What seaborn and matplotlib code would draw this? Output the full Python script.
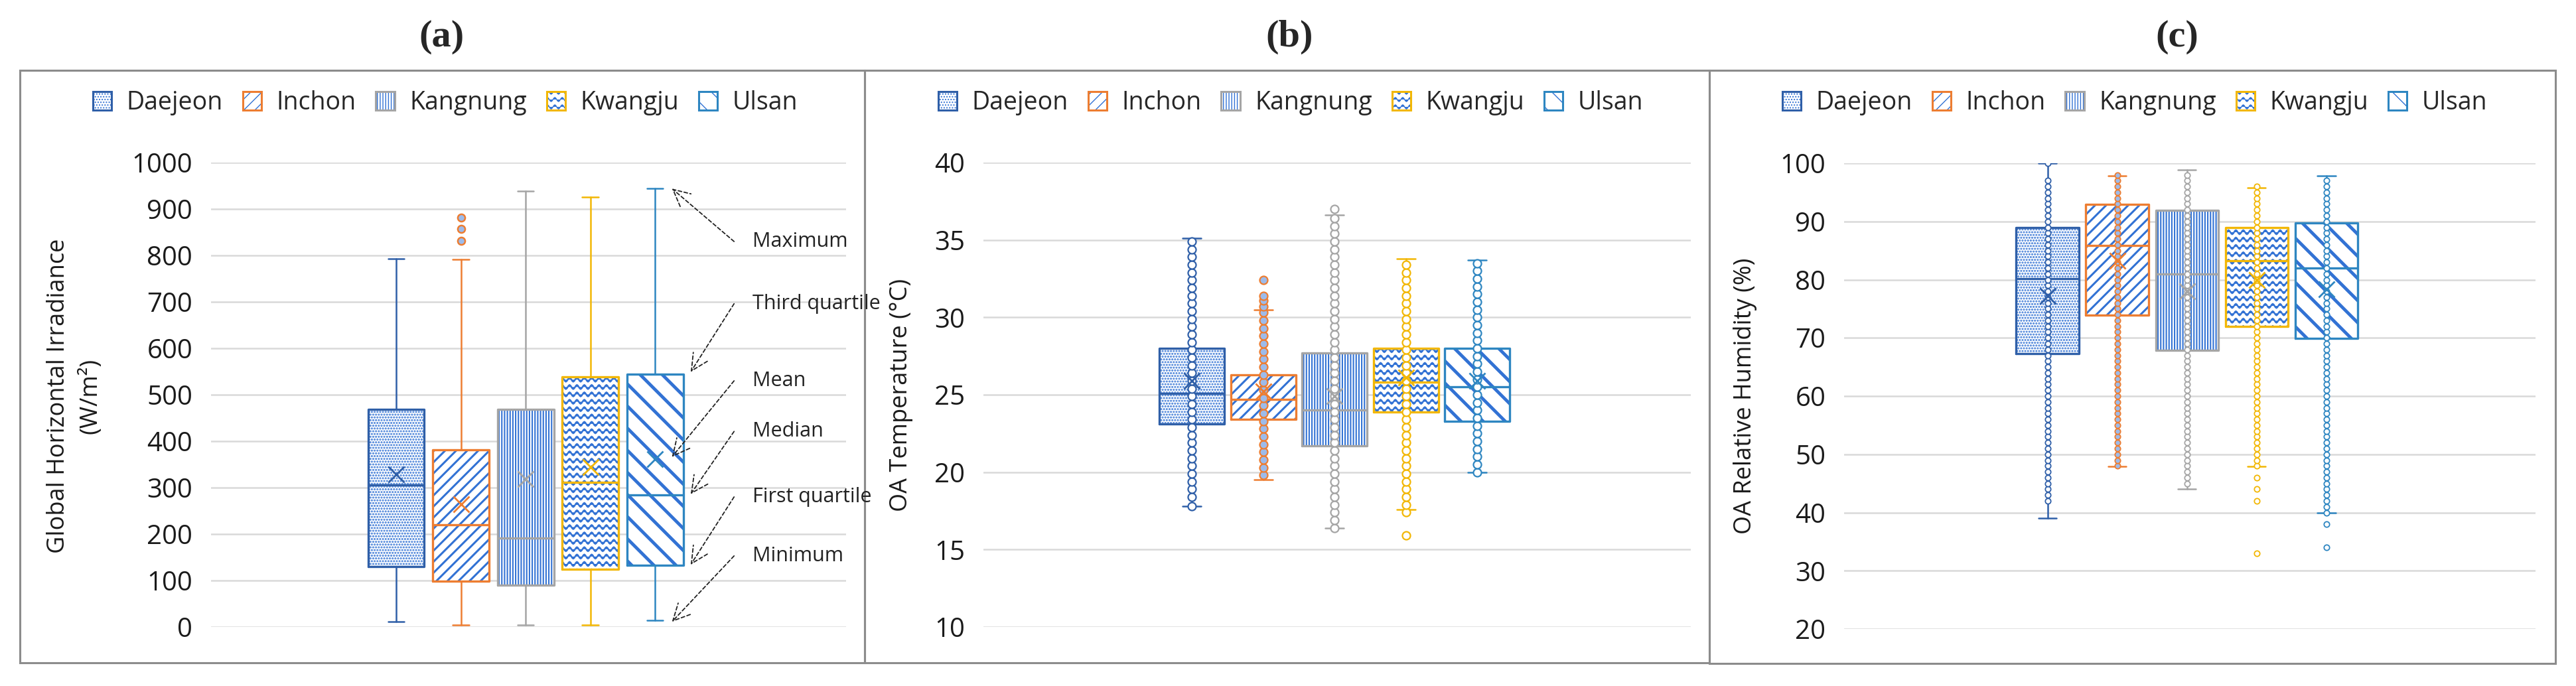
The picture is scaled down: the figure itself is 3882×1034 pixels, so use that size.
import warnings
warnings.filterwarnings('ignore')
import numpy as np
import pandas as pd
import matplotlib
matplotlib.use('Agg')
import matplotlib.pyplot as plt
from matplotlib import hatch as mhatch
from matplotlib.path import Path
from matplotlib.patches import Rectangle, Patch
from matplotlib.legend_handler import HandlerTuple
import seaborn as sns

# ---------------- data ----------------
cities = ['Daejeon', 'Inchon', 'Kangnung', 'Kwangju', 'Ulsan']

# (a) Global horizontal irradiance (W/m2)
ghi_min = [12, 5, 5, 5, 15]
ghi_q1 = [130, 99, 90, 125, 133]
ghi_med = [306, 220, 191, 311, 285]
ghi_q3 = [469, 382, 469, 538, 545]
ghi_max = [793, 791, 938, 925, 944]
ghi_mean = [328, 265, 318, 344, 361]
ghi_out = [[], [831, 857, 882], [], [], []]

# (b) OA temperature (degC)
temp_min = [17.8, 19.5, 16.4, 17.6, 20.0]
temp_q1 = [23.1, 23.4, 21.7, 23.9, 23.3]
temp_med = [25.1, 24.7, 24.0, 25.8, 25.5]
temp_q3 = [28.0, 26.3, 27.7, 28.0, 28.0]
temp_max = [35.1, 30.5, 36.6, 33.8, 33.7]
temp_mean = [25.9, 25.2, 24.9, 26.1, 25.9]
temp_pts_daejeon = [17.8, 18.4, 18.9, 19.4, 19.9, 20.4, 20.9, 21.4, 21.9, 22.4, 22.9,
                    23.4, 23.9, 24.4, 24.9, 25.4, 25.9, 26.4, 26.9, 27.4, 27.9, 28.4,
                    28.9, 29.4, 29.9, 30.4, 30.9, 31.4, 31.9, 32.4, 32.9, 33.4, 33.9,
                    34.4, 34.9]
temp_pts_inchon = [19.8, 20.3, 20.8, 21.3, 21.8, 22.3, 22.8, 23.3, 23.8, 24.3, 24.8,
                   25.3, 25.8, 26.3, 26.8, 27.3, 27.8, 28.3, 28.8, 29.3, 29.8, 30.3,
                   30.7, 31.1, 31.4, 32.4]
temp_pts_kangnung = [16.4, 16.9, 17.4, 17.9, 18.4, 18.9, 19.4, 19.9, 20.4, 20.9, 21.4,
                     21.9, 22.4, 22.9, 23.4, 23.9, 24.4, 24.9, 25.4, 25.9, 26.4, 26.9,
                     27.4, 27.9, 28.4, 28.9, 29.4, 29.9, 30.4, 30.9, 31.4, 31.9, 32.4,
                     32.9, 33.4, 33.9, 34.4, 34.9, 35.4, 35.9, 36.4, 37.0]
temp_pts_kwangju = [15.9, 17.4, 17.9, 18.4, 18.9, 19.4, 19.9, 20.4, 20.9, 21.4, 21.9,
                    22.4, 22.9, 23.4, 23.9, 24.4, 24.9, 25.4, 25.9, 26.4, 26.9, 27.4,
                    27.9, 28.4, 28.9, 29.4, 29.9, 30.4, 30.9, 31.4, 31.9, 32.4, 32.9,
                    33.4]
temp_pts_ulsan = [20.0, 20.5, 21.0, 21.5, 22.0, 22.5, 23.0, 23.5, 24.0, 24.5, 25.0,
                  25.5, 26.0, 26.5, 27.0, 27.5, 28.0, 28.5, 29.0, 29.5, 30.0, 30.5,
                  31.0, 31.5, 32.0, 32.5, 33.0, 33.5]

# (c) OA relative humidity (%)
rh_min = [39.0, 47.9, 44.0, 47.9, 40.0]
rh_q1 = [67.3, 73.9, 67.9, 72.0, 69.9]
rh_med = [80.2, 85.9, 81.0, 83.3, 82.0]
rh_q3 = [89.0, 92.9, 91.9, 89.0, 89.8]
rh_max = [100.0, 97.8, 98.9, 95.8, 97.8]
rh_mean = [77.2, 83.2, 78.0, 79.9, 78.4]
rh_pts_daejeon = [42, 43, 44, 45, 46, 47, 48, 49, 50, 51, 52, 53, 54, 55, 56, 57, 58, 59,
                  60, 61, 62, 63, 64, 65, 66, 67, 68, 69, 70, 71, 72, 73, 74, 75, 76, 77,
                  78, 79, 80, 81, 82, 83, 84, 85, 86, 87, 88, 89, 90, 91, 92, 93, 94, 95,
                  96, 97, 100]
rh_pts_inchon = [48, 49, 50, 51, 52, 53, 54, 55, 56, 57, 58, 59, 60, 61, 62, 63, 64, 65,
                 66, 67, 68, 69, 70, 71, 72, 73, 74, 75, 76, 77, 78, 79, 80, 81, 82, 83,
                 84, 85, 86, 87, 88, 89, 90, 91, 92, 93, 94, 95, 96, 97, 98]
rh_pts_kangnung = [45, 46, 47, 48, 49, 50, 51, 52, 53, 54, 55, 56, 57, 58, 59, 60, 61, 62,
                   63, 64, 65, 66, 67, 68, 69, 70, 71, 72, 73, 74, 75, 76, 77, 78, 79, 80,
                   81, 82, 83, 84, 85, 86, 87, 88, 89, 90, 91, 92, 93, 94, 95, 96, 97, 98]
rh_pts_kwangju = [33, 42, 44, 46, 48, 49, 50, 51, 52, 53, 54, 55, 56, 57, 58, 59, 60, 61,
                  62, 63, 64, 65, 66, 67, 68, 69, 70, 71, 72, 73, 74, 75, 76, 77, 78, 79,
                  80, 81, 82, 83, 84, 85, 86, 87, 88, 89, 90, 91, 92, 93, 94, 95, 96]
rh_pts_ulsan = [34, 38, 40, 41, 42, 43, 44, 45, 46, 47, 48, 49, 50, 51, 52, 53, 54, 55, 56,
                57, 58, 59, 60, 61, 62, 63, 64, 65, 66, 67, 68, 69, 70, 71, 72, 73, 74, 75,
                76, 77, 78, 79, 80, 81, 82, 83, 84, 85, 86, 87, 88, 89, 90, 91, 92, 93, 94,
                95, 96, 97]

annot_labels = ['Maximum', 'Third quartile', 'Mean', 'Median', 'First quartile', 'Minimum']

# ---------------- style ----------------
edge_colors = ['#2F5FA8', '#ED7D31', '#A5A5A5', '#F2B705', '#2E86C1']
marker_faces = ['white', '#9DBBEA', 'white', 'white', 'white']
hatch_color = '#3272D4'
hatches = ['....', '//', '||||', 'z', '\\']
hatch_lws = [1.5, 2.2, 1.5, 1.7, 3.5]


class WaveHatch(mhatch.HatchPatternBase):
    """Wavy horizontal lines (Excel 'wave' pattern), selected with 'z'."""
    def __init__(self, hatch, density):
        self.num_rows = hatch.count('z') * 9
        self.per_row = 9 * 8 + 1
        self.num_vertices = self.num_rows * self.per_row

    def set_vertices_and_codes(self, vertices, codes):
        xs = np.linspace(0.0, 1.0, self.per_row)
        for r in range(self.num_rows):
            y0 = (r + 0.5) / self.num_rows
            ys = y0 + 0.28 / self.num_rows * np.sin(2 * np.pi * 9 * xs)
            sl = slice(r * self.per_row, (r + 1) * self.per_row)
            vertices[sl, 0] = xs
            vertices[sl, 1] = ys
            codes[sl] = Path.LINETO
            codes[r * self.per_row] = Path.MOVETO


mhatch._hatch_types.append(WaveHatch)

sns.set_theme(style='white')
plt.rcParams['font.family'] = ['Open Sans', 'DejaVu Sans']

W, H = 3882, 1034
fig = plt.figure(figsize=(W / 100, H / 100), dpi=100)


def set_hatch_lw(p, lw):
    if hasattr(p, 'set_hatch_linewidth'):
        p.set_hatch_linewidth(lw)


def px_axes(x0, x1, y0, y1):
    return fig.add_axes([x0 / W, 1 - y1 / H, (x1 - x0) / W, (y1 - y0) / H])


def draw_panel(ax, mins, q1s, meds, q3s, maxs, means, width, capw, fliers, pts, msize,
               mlw):
    for i in range(5):
        st = dict(whislo=mins[i], q1=q1s[i], med=meds[i], q3=q3s[i], whishi=maxs[i],
                  fliers=fliers[i], mean=means[i], label=cities[i])
        col = edge_colors[i]
        # layer 1: blue pattern fill of the box + whiskers, caps, fliers
        with plt.rc_context({'hatch.linewidth': hatch_lws[i]}):
            art = ax.bxp([st], positions=[i], widths=width, capwidths=capw,
                         patch_artist=True, showmeans=False, showfliers=True,
                         boxprops=dict(facecolor='white', edgecolor=hatch_color,
                                       linewidth=0, hatch=hatches[i]),
                         medianprops=dict(visible=False),
                         whiskerprops=dict(color=col, linewidth=1.8),
                         capprops=dict(color=col, linewidth=1.8),
                         flierprops=dict(marker='o', markerfacecolor='#9DBBEA',
                                         markeredgecolor=col, markersize=8,
                                         markeredgewidth=1.8),
                         manage_ticks=False, zorder=2)
        for b in art['boxes']:
            set_hatch_lw(b, hatch_lws[i])
        # layer 2: coloured box outline and median
        ax.bxp([st], positions=[i], widths=width, patch_artist=False,
               showmeans=False, showfliers=False, showcaps=False,
               boxprops=dict(color=col, linewidth=2.4),
               medianprops=dict(color=col, linewidth=2.4),
               whiskerprops=dict(visible=False),
               manage_ticks=False, zorder=2.2)
        if pts is not None:
            vals = pts[i]
            sns.scatterplot(x=np.full(len(vals), i), y=vals, ax=ax, color=marker_faces[i],
                            edgecolor=col, s=msize, linewidth=mlw, legend=False, zorder=3)
        sns.scatterplot(x=[i], y=[means[i]], ax=ax, color=col, marker='x', s=300,
                        linewidth=2.0, legend=False, zorder=5)


def style_axes(ax, ylim, yticks, xlim):
    ax.set_xlim(*xlim)
    ax.set_ylim(*ylim)
    ax.set_yticks(yticks)
    ax.set_xticks([])
    ax.set_xlabel('')
    ax.set_ylabel('')
    for s in ax.spines.values():
        s.set_visible(False)
    ax.yaxis.grid(True, color='#D9D9D9', linewidth=1.8, zorder=0)
    ax.set_axisbelow(True)
    ax.tick_params(axis='y', length=0, pad=20, labelsize=29, labelcolor='#1a1a1a')
    ax.set_facecolor('none')


# frames
frames = [(30, 1303, 106, 999), (1303, 2576, 106, 999), (2576, 3851, 106, 1000)]
for (x0, x1, y0, y1) in frames:
    fig.add_artist(Rectangle((x0 / W, 1 - y1 / H), (x1 - x0) / W, (y1 - y0) / H,
                             transform=fig.transFigure, fill=False,
                             edgecolor='#8C8C8C', linewidth=2.2, zorder=0))

# panel (a)
axa = px_axes(318, 1275, 245, 945)
draw_panel(axa, ghi_min, ghi_q1, ghi_med, ghi_q3, ghi_max, ghi_mean, 0.87, 0.25,
           ghi_out, None, 0, 0)
style_axes(axa, (0, 1000), np.arange(0, 1001, 100), (-2.86, 6.95))

arrow_targets = [(4.26, 944), (4.55, 549), (4.26, 366), (4.55, 286), (4.55, 134), (4.26, 11)]
arrow_tails_y = [830, 696, 530, 421, 280, 153]
for lab, (tx, ty), yy in zip(annot_labels, arrow_targets, arrow_tails_y):
    axa.annotate('', xy=(tx, ty), xytext=(5.22, yy),
                 arrowprops=dict(arrowstyle='->', linestyle=(0, (3, 2)), color='#222222',
                                 lw=1.3, mutation_scale=45, shrinkA=0, shrinkB=0),
                 annotation_clip=False)
    axa.text(5.50, yy, lab, fontsize=22, color='#222222', va='center', ha='left',
             clip_on=False, zorder=6)

# panel (b)
axb = px_axes(1482, 2548, 245, 945)
temp_pts = [temp_pts_daejeon, temp_pts_inchon, temp_pts_kangnung, temp_pts_kwangju,
            temp_pts_ulsan]
draw_panel(axb, temp_min, temp_q1, temp_med, temp_q3, temp_max, temp_mean, 0.91, 0.26,
           [[], [], [], [], []], temp_pts, 75, 1.6)
style_axes(axb, (10, 40), np.arange(10, 41, 5), (-2.92, 6.99))

# panel (c)
axc = px_axes(2779, 3821, 246, 948)
rh_pts = [rh_pts_daejeon, rh_pts_inchon, rh_pts_kangnung, rh_pts_kwangju, rh_pts_ulsan]
draw_panel(axc, rh_min, rh_q1, rh_med, rh_q3, rh_max, rh_mean, 0.90, 0.26,
           [[], [], [], [], []], rh_pts, 36, 1.3)
style_axes(axc, (20, 100), np.arange(20, 101, 10), (-2.92, 7.0))

# y labels
fig.text(112 / W, 1 - 597 / H, 'Global Horizontal Irradiance\n(W/m²)', rotation=90,
         ha='center', va='center', fontsize=26, linespacing=1.45, color='#1a1a1a')
fig.text(1358 / W, 1 - 595 / H, 'OA Temperature (°C)', rotation=90,
         ha='center', va='center', fontsize=26, color='#1a1a1a')
fig.text(2630 / W, 1 - 597 / H, 'OA Relative Humidity (%)', rotation=90,
         ha='center', va='center', fontsize=26, color='#1a1a1a')

# titles
for lab, cx in zip(['(a)', '(b)', '(c)'], [666, 1943, 3281]):
    fig.text(cx / W, 1 - 56 / H, lab, ha='center', va='center', fontsize=42,
             fontweight='bold', family=['Liberation Serif', 'DejaVu Serif'])

# legends
for cx in [671, 1945, 3217]:
    handles = []
    for i in range(5):
        with plt.rc_context({'hatch.linewidth': hatch_lws[i] * 0.8}):
            fill = Patch(facecolor='white', edgecolor=hatch_color, linewidth=0,
                         hatch=hatches[i])
        set_hatch_lw(fill, hatch_lws[i] * 0.8)
        outline = Patch(facecolor='none', edgecolor=edge_colors[i], linewidth=2.2)
        handles.append((fill, outline))
    fig.legend(handles, cities, loc='center', bbox_to_anchor=(cx / W, 1 - 155 / H),
               ncol=5, frameon=False, fontsize=27, handlelength=0.75, handleheight=0.75,
               handletextpad=0.6, columnspacing=0.8, borderaxespad=0,
               handler_map={tuple: HandlerTuple(ndivide=1, pad=0)})

fig.savefig('out.png', dpi=100, facecolor='white')
